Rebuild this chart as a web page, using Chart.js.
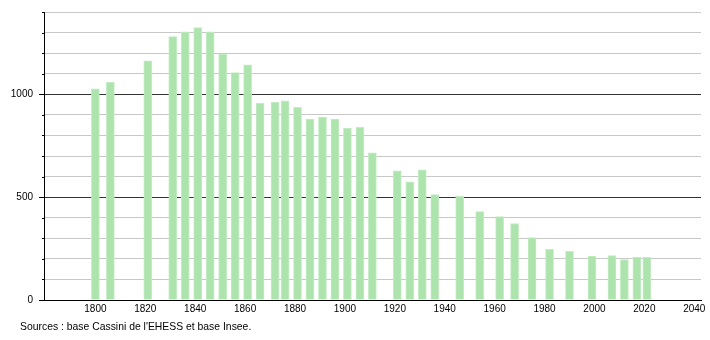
<!DOCTYPE html>
<html>
<head>
<meta charset="utf-8">
<script src="https://cdn.jsdelivr.net/npm/chart.js@4"></script>
<style>
  html, body { margin: 0; padding: 0; background: #fff; }
  #wrap { position: relative; width: 710px; height: 340px; }
  #src { position: absolute; left: 20px; top: 321px; font: 10.4px "Liberation Sans", Arial, sans-serif; color: #000; white-space: nowrap; }
</style>
</head>
<body>
<div id="wrap">
  <canvas id="c" width="710" height="340"></canvas>
  <div id="src">Sources : base Cassini de l'EHESS et base Insee.</div>
</div>
<script>
const years = [1800, 1806, 1821, 1831, 1836, 1841, 1846, 1851, 1856, 1861, 1866, 1872, 1876, 1881, 1886, 1891, 1896, 1901, 1906, 1911, 1921, 1926, 1931, 1936, 1946, 1954, 1962, 1968, 1975, 1982, 1990, 1999, 2007, 2012, 2017, 2021];
const population = [1027, 1058, 1163, 1280, 1303, 1324, 1304, 1196, 1106, 1143, 956, 961, 968, 937, 879, 889, 879, 836, 839, 715, 628, 575, 633, 512, 504, 430, 406, 372, 303, 246, 237, 213, 216, 197, 208, 208];
const xTicks = [1800, 1820, 1840, 1860, 1880, 1900, 1920, 1940, 1960, 1980, 2000, 2020, 2040];
const yLabels = [0, 500, 1000];

const minorTicks = {
  id: 'minorTicks',
  afterDraw(chart) {
    const y = chart.scales.y, ctx = chart.ctx;
    ctx.save();
    ctx.strokeStyle = '#000';
    ctx.lineWidth = 1;
    for (let v = 100; v <= 1400; v += 100) {
      if (yLabels.includes(v)) continue;
      const py = Math.round(y.getPixelForValue(v)) + 0.5;
      ctx.beginPath();
      ctx.moveTo(y.right - 2, py);
      ctx.lineTo(y.right, py);
      ctx.stroke();
    }
    ctx.restore();
  }
};

new Chart(document.getElementById('c'), {
  type: 'bar',
  data: {
    datasets: [{
      data: years.map((yr, i) => ({ x: yr, y: population[i] })),
      backgroundColor: '#ade3ad',
      borderColor: '#c4ecc4',
      borderWidth: 1,
      borderSkipped: 'bottom',
      barThickness: 8
    }]
  },
  options: {
    responsive: false,
    animation: false,
    events: [],
    layout: { padding: { top: 10, right: 9, left: 0, bottom: 0 } },
    plugins: { legend: { display: false }, tooltip: { enabled: false } },
    scales: {
      x: {
        type: 'linear',
        offset: false,
        min: 1779.4,
        max: 2042.7,
        afterBuildTicks: s => { s.ticks = xTicks.map(v => ({ value: v })); },
        afterFit: s => { s.height = 40; },
        grid: { display: false, drawTicks: false, offset: false },
        border: { display: true, color: '#000', width: 1 },
        ticks: {
          padding: 3,
          maxRotation: 0,
          autoSkip: false,
          color: '#000',
          font: { family: '"Liberation Sans", Arial, sans-serif', size: 10 },
          callback: v => String(v)
        }
      },
      y: {
        min: 0,
        max: 1400,
        afterBuildTicks: s => { const t = []; for (let v = 0; v <= 1400; v += 100) t.push({ value: v }); s.ticks = t; },
        afterFit: s => { s.width = 44; },
        grid: {
          color: c => (c.tick && yLabels.includes(c.tick.value) && c.tick.value !== 0) ? '#333' : '#c8c8c8',
          lineWidth: 1,
          drawTicks: true,
          tickLength: 5,
          tickColor: c => (c.tick && yLabels.includes(c.tick.value)) ? '#000' : 'rgba(0,0,0,0)'
        },
        border: { display: true, color: '#000', width: 1 },
        ticks: {
          padding: 6,
          autoSkip: false,
          color: '#000',
          font: { family: '"Liberation Sans", Arial, sans-serif', size: 10 },
          callback: v => yLabels.includes(v) ? String(v) : ''
        }
      }
    }
  },
  plugins: [minorTicks]
});
</script>
</body>
</html>
